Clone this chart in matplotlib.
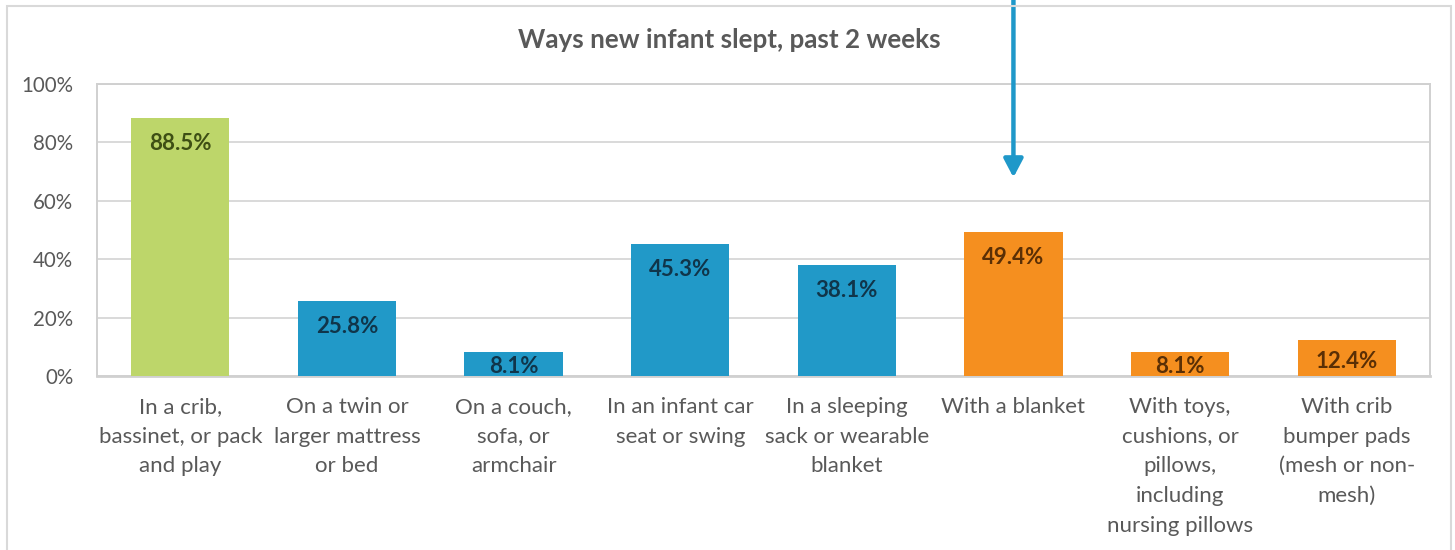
import matplotlib
matplotlib.use('Agg')
import matplotlib.pyplot as plt
from matplotlib.patches import Rectangle
import numpy as np

categories = ['In a crib,\nbassinet, or pack\nand play',
              'On a twin or\nlarger mattress\nor bed',
              'On a couch,\nsofa, or\narmchair',
              'In an infant car\nseat or swing',
              'In a sleeping\nsack or wearable\nblanket',
              'With a blanket',
              'With toys,\ncushions, or\npillows,\nincluding\nnursing pillows',
              'With crib\nbumper pads\n(mesh or non-\nmesh)']
values = [88.5, 25.8, 8.1, 45.3, 38.1, 49.4, 8.1, 12.4]
groups = ['safe', 'place', 'place', 'place', 'place', 'item', 'item', 'item']
yticks = [0, 20, 40, 60, 80, 100]

fill = {'safe': '#bdd66a', 'place': '#2199c8', 'item': '#f58f1f'}
ink = {'safe': '#3e4f14', 'place': '#10354a', 'item': '#5a2f05'}
grey = '#595959'

plt.rcParams['font.family'] = ['Lato', 'DejaVu Sans']

fig = plt.figure(figsize=(14.55, 5.5), dpi=100)
ax = fig.add_axes([97/1455, 1-376/550, (1430-97)/1455, (376-84)/550])

x = np.arange(len(values))
ax.bar(x, values, width=0.59, color=[fill[g] for g in groups], zorder=3)

for xi, v, g in zip(x, values, groups):
    ly = v - min(8.9, v*0.6)
    ax.text(xi, ly, '%.1f%%' % v, ha='center', va='center', fontsize=16,
            fontweight='bold', color=ink[g], zorder=4)

ax.set_xlim(-0.5, len(values) - 0.5)
ax.set_ylim(0, 100)
ax.set_yticks(yticks)
ax.set_yticklabels(['%d%%' % t for t in yticks], fontsize=14.8, color=grey)
ax.set_xticks(x)
ax.set_xticklabels(categories, fontsize=16, color=grey, linespacing=1.61, va='top')
ax.tick_params(axis='x', length=0, pad=15)
ax.tick_params(axis='y', length=0, pad=17)
ax.grid(axis='y', color='#d9d9d9', linewidth=1.4, zorder=0)
for s in ['left', 'right', 'top']:
    ax.spines[s].set_color('#d0d0d0')
    ax.spines[s].set_linewidth(1.4)
ax.spines['bottom'].set_color('#d0d0d0')
ax.spines['bottom'].set_linewidth(2)

# outer chart border
fig.patches.append(Rectangle((7/1455, -0.1), 1444/1455, 1.1 - 6/550,
                             transform=fig.transFigure, fill=False,
                             edgecolor='#d9d9d9', linewidth=1.5))

fig.text(729/1455, 1-40/550, 'Ways new infant slept, past 2 weeks', ha='center',
         va='center', fontsize=18.7, fontweight='bold', color=grey)

# arrow pointing at the blanket bar
ax.annotate('', xy=(5, 68), xytext=(5, 1.01), textcoords=('data', 'figure fraction'),
            arrowprops=dict(arrowstyle='-|>,head_width=0.58,head_length=1.1',
                            color='#1f98c9', lw=3.2, shrinkA=0, shrinkB=0),
            annotation_clip=False)

fig.savefig('out.png', dpi=100)
